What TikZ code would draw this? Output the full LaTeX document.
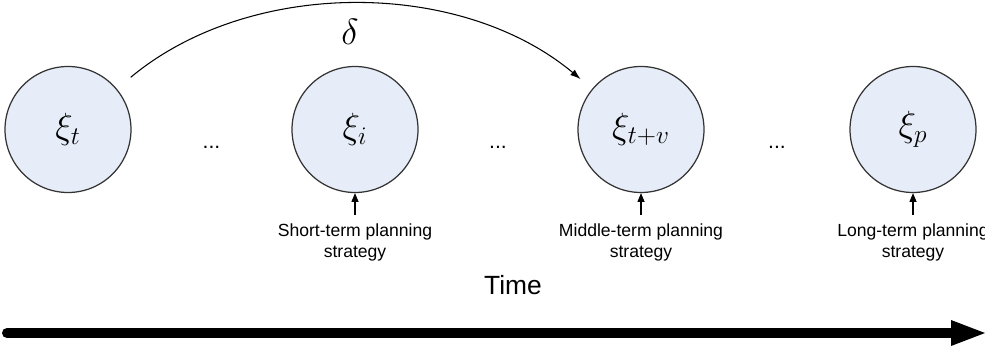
\documentclass[tikz,border=0pt]{standalone}
\usepackage{fontspec}
\setsansfont{Liberation Sans}
\usetikzlibrary{arrows.meta, positioning, calc}
\definecolor{stFill}{HTML}{E6EDF8}
\definecolor{stLine}{HTML}{333333}

\begin{document}
\begin{tikzpicture}[
  state/.style={circle, draw=stLine, fill=stFill, line width=0.7pt,
                minimum size=2.52cm, inner sep=0pt, font=\fontsize{21}{24}\selectfont},
  plan/.style={font=\sffamily\fontsize{10}{11.5}\selectfont, align=center, inner sep=1pt},
  gap/.style={font=\sffamily\fontsize{12}{14}\selectfont, inner sep=0pt},
  up/.style={-{Triangle[length=5pt,width=4pt]}, line width=0.6pt, shorten <=4pt},
  jump/.style={-{Latex[length=6pt,width=4pt]}, line width=0.6pt},
  timeline/.style={line width=0.2cm, line cap=round,
                   -{Triangle[length=0.68cm,width=0.52cm,line width=0pt]}},
]
\useasboundingbox (0,0) rectangle (19.7,6.92);

% ---------------- States ----------------
\node[state] (xt)  at (1.36,4.33)  {$\xi_t$};
\node[state] (xi)  at (7.10,4.33)  {$\xi_i$};
\node[state] (xtv) at (12.82,4.33) {$\xi_{t+v}$};
\node[state] (xp)  at (18.26,4.33) {$\xi_p$};

% ---------------- Gaps ----------------
\node[gap] (g1) at (4.23,3.98)  {...};
\node[gap] (g2) at (9.96,3.98)  {...};
\node[gap] (g3) at (15.54,3.98) {...};

% ---------------- Planning strategies ----------------
\node[plan, anchor=north] (sst) at (7.10,2.48)  {Short-term planning\\strategy};
\node[plan, anchor=north] (mst) at (12.82,2.48) {Middle-term planning\\strategy};
\node[plan, anchor=north] (lst) at (18.26,2.48) {Long-term planning\\strategy};
\draw[up] (sst) -- (xi);
\draw[up] (mst) -- (xtv);
\draw[up] (lst) -- (xp);

% ---------------- Jump delta ----------------
\draw[jump, shorten <=0.36cm, shorten >=0.3cm]
  (xt) .. controls +(3.64,3.03) and +(-3.62,3.02) .. (xtv);
\node[font=\fontsize{20}{24}\selectfont] (delta) at (7.0,6.28) {$\delta$};

% ---------------- Time axis ----------------
\node[font=\sffamily\fontsize{15}{18}\selectfont] (time) at (10.26,1.22) {Time};
\coordinate (t0) at (0.14,0.26);
\coordinate (t1) at (19.7,0.26);
\draw[timeline] (t0) -- (t1);
\end{tikzpicture}
\end{document}
